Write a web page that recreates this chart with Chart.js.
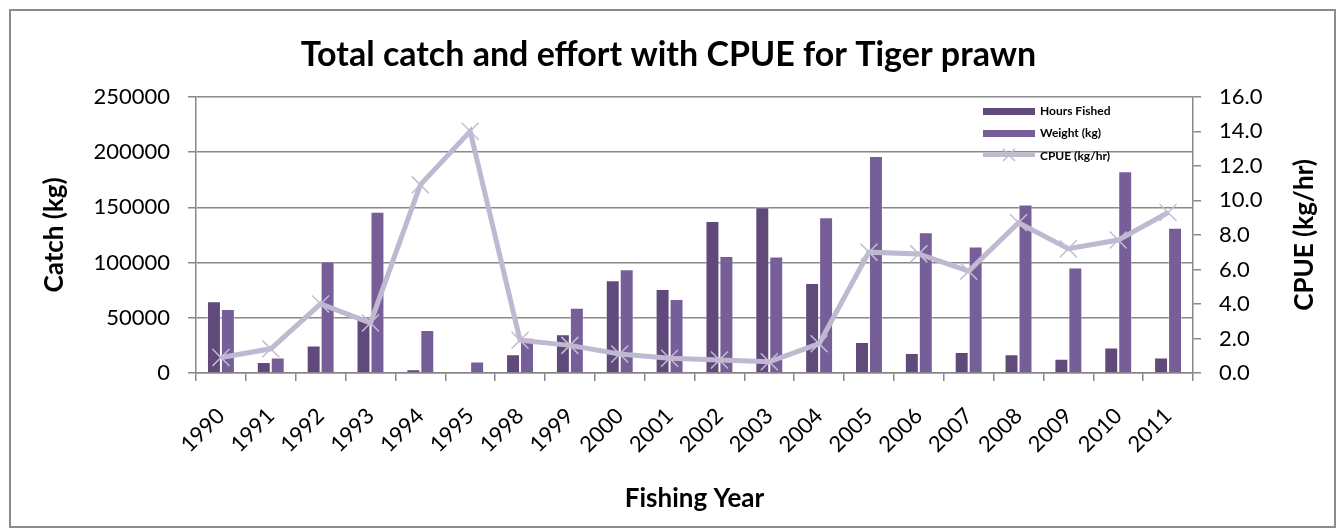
<!DOCTYPE html>
<html>
<head>
<meta charset="utf-8">
<title>Tiger prawn catch and effort</title>
<script src="https://cdn.jsdelivr.net/npm/chart.js@4.4.1/dist/chart.umd.min.js"></script>
<style>
  html, body { margin: 0; padding: 0; background: #fff; }
  canvas { display: block; }
</style>
</head>
<body>
<canvas id="chart" width="1337" height="529"></canvas>
<script>
// data
const years = ['1990', '1991', '1992', '1993', '1994', '1995', '1998', '1999', '2000', '2001',
               '2002', '2003', '2004', '2005', '2006', '2007', '2008', '2009', '2010', '2011'];
const hoursFished = [65000, 10000, 25000, 50000, 3500, 750, 17000, 35000, 84000, 76000,
                     137500, 150000, 81500, 28000, 18000, 19000, 17000, 13000, 23000, 14000];
const weightKg = [58000, 14000, 101000, 146000, 39000, 10500, 32000, 59000, 94000, 67000,
                  106000, 105500, 141000, 196500, 127500, 114500, 152500, 95500, 182500, 131500];
const cpue = [0.9, 1.4, 4.0, 2.9, 10.9, 14.0, 1.9, 1.6, 1.1, 0.85,
              0.75, 0.65, 1.7, 7.0, 6.9, 5.9, 8.7, 7.2, 7.7, 9.3];
const catchTicks = [0, 50000, 100000, 150000, 200000, 250000];
const cpueTicks = [0, 2, 4, 6, 8, 10, 12, 14, 16];

const HOURS_COL = '#604a7b';
const WEIGHT_COL = '#765e98';
const CPUE_COL = '#bfb8d1';
const GRID_COL = '#888888';
const FONT = 'Lato, "Open Sans", sans-serif';

Chart.defaults.font.family = FONT;
Chart.defaults.color = '#000';

// white page + grey outer frame
const framePlugin = {
  id: 'frame',
  beforeDraw(chart) {
    const c = chart.ctx;
    c.save();
    c.fillStyle = '#fff';
    c.fillRect(0, 0, chart.width, chart.height);
    c.strokeStyle = '#8c8c8c';
    c.lineWidth = 2;
    c.strokeRect(10, 10, 1325, 517);
    c.restore();
  }
};

// legend sits inside the plot, top right, like the excel one
const legendPlugin = {
  id: 'insideLegend',
  afterDraw(chart) {
    const c = chart.ctx;
    const x0 = 983, x1 = 1035, tx = 1040;
    c.save();
    c.font = 'bold 12px ' + FONT;
    c.textBaseline = 'middle';

    c.fillStyle = HOURS_COL;
    c.fillRect(x0, 108, x1 - x0, 7);
    c.fillStyle = '#000';
    c.fillText('Hours Fished', tx, 111);

    c.fillStyle = WEIGHT_COL;
    c.fillRect(x0, 130, x1 - x0, 7);
    c.fillStyle = '#000';
    c.fillText('Weight (kg)', tx, 133.5);

    c.strokeStyle = CPUE_COL;
    c.lineWidth = 4;
    c.beginPath();
    c.moveTo(x0, 155);
    c.lineTo(x1, 155);
    c.stroke();
    c.lineWidth = 1.5;
    c.beginPath();
    c.moveTo(1003, 149); c.lineTo(1015, 161);
    c.moveTo(1015, 149); c.lineTo(1003, 161);
    c.stroke();
    c.fillStyle = '#000';
    c.fillText('CPUE (kg/hr)', tx, 156);
    c.restore();
  }
};

// secondary axis title reads bottom-to-top
const rightTitlePlugin = {
  id: 'rightTitle',
  afterDraw(chart) {
    const c = chart.ctx;
    const a = chart.chartArea;
    c.save();
    c.translate(1305, (a.top + a.bottom) / 2);
    c.rotate(-Math.PI / 2);
    c.font = 'bold 26px ' + FONT;
    c.textAlign = 'center';
    c.textBaseline = 'middle';
    c.fillStyle = '#000';
    c.fillText('CPUE (kg/hr)', 0, 0);
    c.restore();
  }
};

new Chart(document.getElementById('chart').getContext('2d'), {
  type: 'bar',
  data: {
    labels: years,
    datasets: [
      {
        type: 'line',
        label: 'CPUE (kg/hr)',
        data: cpue,
        yAxisID: 'y1',
        borderColor: CPUE_COL,
        borderWidth: 5,
        pointStyle: 'crossRot',
        pointRadius: 12,
        pointBorderWidth: 1.5,
        pointBorderColor: '#c3bdd4',
        tension: 0,
        order: 0
      },
      {
        label: 'Hours Fished',
        data: hoursFished,
        yAxisID: 'y',
        backgroundColor: HOURS_COL,
        borderColor: 'rgba(255,255,255,0.35)',
        borderWidth: 1,
        categoryPercentage: 0.56,
        barPercentage: 1.0,
        order: 1
      },
      {
        label: 'Weight (kg)',
        data: weightKg,
        yAxisID: 'y',
        backgroundColor: WEIGHT_COL,
        borderColor: 'rgba(255,255,255,0.35)',
        borderWidth: 1,
        categoryPercentage: 0.56,
        barPercentage: 1.0,
        order: 2
      }
    ]
  },
  options: {
    responsive: false,
    animation: false,
    devicePixelRatio: 1,
    layout: { padding: 0 },
    plugins: {
      legend: { display: false },
      tooltip: { enabled: false },
      title: {
        display: true,
        text: 'Total catch and effort with CPUE for Tiger prawn',
        font: { size: 34, weight: 'bold' },
        color: '#000',
        padding: { top: 35, bottom: 21 }
      }
    },
    scales: {
      x: {
        offset: true,
        grid: { display: true, drawOnChartArea: false, drawTicks: true, tickLength: 8, color: GRID_COL, lineWidth: 1.5, offset: true },
        border: { display: true, color: GRID_COL, width: 1.5 },
        ticks: { font: { size: 22 }, minRotation: 45, maxRotation: 45, padding: 22, autoSkip: false },
        title: {
          display: true,
          text: 'Fishing Year',
          font: { size: 26, weight: 'bold' },
          padding: { top: 0, bottom: 15 }
        },
        afterFit(scale) { scale.height = 156; }
      },
      y: {
        position: 'left',
        min: 0,
        max: 250000,
        afterBuildTicks(scale) { scale.ticks = catchTicks.map(v => ({ value: v })); },
        grid: { color: GRID_COL, tickLength: 8, lineWidth: 1.5 },
        border: { display: true, color: GRID_COL, width: 1.5 },
        ticks: { font: { size: 22 }, padding: 18, callback: v => String(v) },
        title: {
          display: true,
          text: 'Catch (kg)',
          font: { size: 26, weight: 'bold' },
          padding: { top: 39, bottom: 0 }
        },
        afterFit(scale) { scale.width = 196; }
      },
      y1: {
        position: 'right',
        min: 0,
        max: 16,
        afterBuildTicks(scale) { scale.ticks = cpueTicks.map(v => ({ value: v })); },
        grid: { drawOnChartArea: false, color: GRID_COL, tickLength: 8, lineWidth: 1.5 },
        border: { display: true, color: GRID_COL, width: 1.5 },
        ticks: { font: { size: 22 }, padding: 18, callback: v => Number(v).toFixed(1) },
        afterFit(scale) { scale.width = 144; }
      }
    }
  },
  plugins: [framePlugin, legendPlugin, rightTitlePlugin]
});
</script>
</body>
</html>
